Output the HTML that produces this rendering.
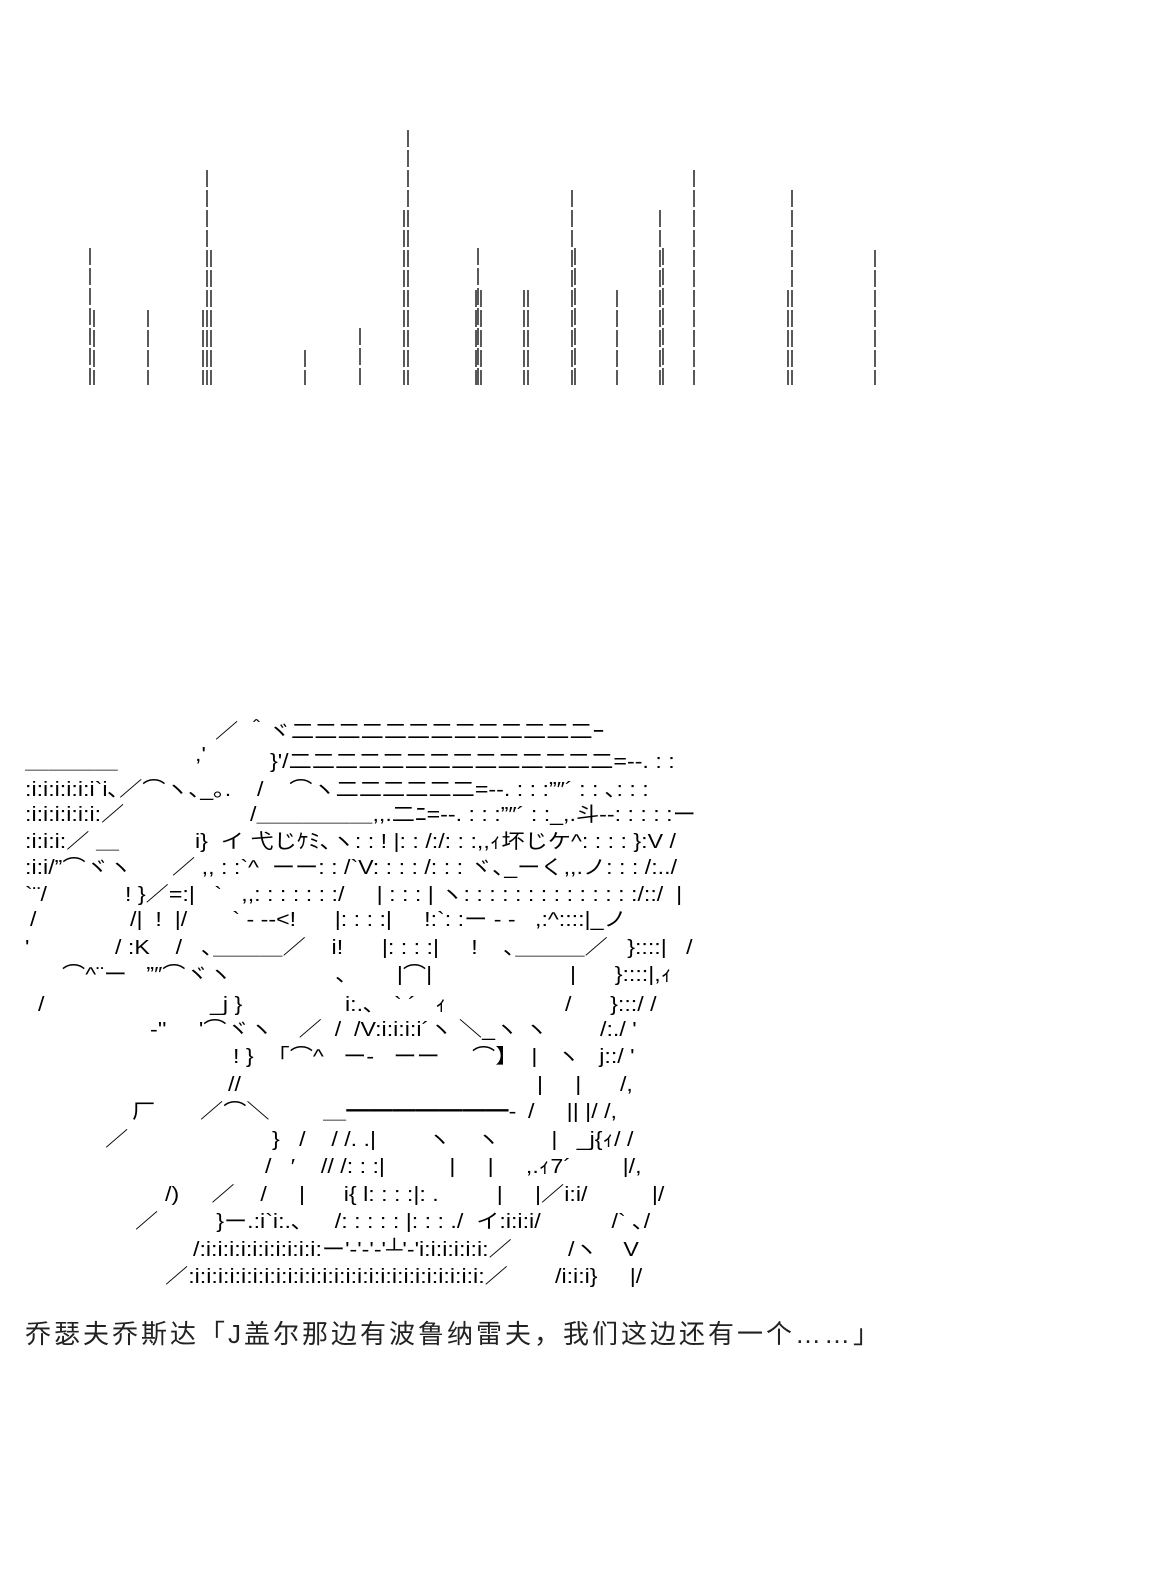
<!DOCTYPE html>
<html><head><meta charset="utf-8"><style>
html,body{margin:0;padding:0;background:#fff;}
body{width:1150px;height:1579px;position:relative;overflow:hidden;}
.t{position:absolute;white-space:pre;font-family:"Liberation Sans","Noto Sans CJK JP",sans-serif;font-size:20px;line-height:20px;color:#000;transform:scaleX(1.16);transform-origin:0 0;}
.c{position:absolute;left:25px;top:1314px;font-family:"Liberation Sans","Noto Sans CJK SC",sans-serif;font-size:26px;letter-spacing:3px;color:#222;white-space:pre;}
</style></head><body>
<svg width="1150" height="400" style="position:absolute;left:0;top:0" stroke="#000" stroke-width="1.3">
<g stroke-dasharray="17 3">
<line x1="90" y1="248" x2="90" y2="385"/><line x1="94" y1="310" x2="94" y2="385"/>
<line x1="148" y1="310" x2="148" y2="385"/>
<line x1="207" y1="170" x2="207" y2="385"/><line x1="211" y1="250" x2="211" y2="385"/><line x1="203" y1="310" x2="203" y2="385"/>
<line x1="305" y1="350" x2="305" y2="385"/><line x1="360" y1="328" x2="360" y2="385"/>
<line x1="408" y1="130" x2="408" y2="385"/><line x1="404" y1="210" x2="404" y2="385"/>
<line x1="478" y1="248" x2="478" y2="385"/><line x1="476" y1="290" x2="476" y2="385"/><line x1="481" y1="290" x2="481" y2="385"/>
<line x1="524" y1="290" x2="524" y2="385"/><line x1="528" y1="290" x2="528" y2="385"/>
<line x1="572" y1="190" x2="572" y2="385"/><line x1="575" y1="248" x2="575" y2="385"/>
<line x1="617" y1="290" x2="617" y2="385"/>
<line x1="660" y1="210" x2="660" y2="385"/><line x1="663" y1="248" x2="663" y2="385"/>
<line x1="694" y1="170" x2="694" y2="385"/>
<line x1="792" y1="190" x2="792" y2="385"/><line x1="788" y1="290" x2="788" y2="385"/>
<line x1="875" y1="250" x2="875" y2="385"/>
</g></svg>

<div class="t" style="left:215px;top:722px">／ ＾ヾ二二二二二二二二二二二二二ｰ</div>
<div class="t" style="left:195px;top:745px">,'</div>
<div class="t" style="left:25px;top:752px">＿＿＿＿</div>
<div class="t" style="left:270px;top:752px">}'/二二二二二二二二二二二二二二=‐‐. : :</div>
<div class="t" style="left:25px;top:780px">:i:i:i:i:i:i`i､／⌒ヽ､_｡.    /    ⌒ヽ二二二二二二=‐‐. : : :”″´ : : ､: : :</div>
<div class="t" style="left:25px;top:805px">:i:i:i:i:i:i:／</div>
<div class="t" style="left:250px;top:805px">/＿＿＿＿＿,,.二ﾆ=‐‐. : : :”″´ : :_,.斗‐‐: : : : :ー</div>
<div class="t" style="left:25px;top:832px">:i:i:i:／ ＿</div>
<div class="t" style="left:195px;top:832px">i}  イ 弋じｹﾐ､ヽ: : ! |: : /:/: : :,,ｨ坏じケ^: : : : }:V /</div>
<div class="t" style="left:25px;top:858px">:i:i/”⌒ヾヽ</div>
<div class="t" style="left:172px;top:858px">／ ,, : :`^  ーー: : /`V: : : : /: : : ヾ､_ーく,,.ノ: : : /:../</div>
<div class="t" style="left:25px;top:885px">`¨/</div>
<div class="t" style="left:125px;top:885px">! }／=:|   `   ,,: : : : : : :/     | : : : | ヽ: : : : : : : : : : : : : :/::/  |</div>
<div class="t" style="left:30px;top:910px">/</div>
<div class="t" style="left:130px;top:910px">/|  !  |/       ` - --&lt;!      |: : : :|     !:`: :ー - -   ,:^::::|_ノ</div>
<div class="t" style="left:25px;top:938px">'</div>
<div class="t" style="left:115px;top:938px">/ :K    /   ､＿＿＿／    i!      |: : : :|     !    ､＿＿＿／   }::::|   /</div>
<div class="t" style="left:62px;top:965px">⌒^¨ー   ”″⌒ヾヽ</div>
<div class="t" style="left:335px;top:965px">、      |⌒|</div>
<div class="t" style="left:570px;top:965px">|      }::::|,ｨ</div>
<div class="t" style="left:38px;top:995px">/</div>
<div class="t" style="left:210px;top:995px">_j }</div>
<div class="t" style="left:345px;top:995px">i:.､   ` ´   ｨ</div>
<div class="t" style="left:565px;top:995px">/      }:::/ /</div>
<div class="t" style="left:150px;top:1020px">-''     '⌒ヾヽ    ／  /  /V:i:i:i:i´ヽ ＼_ヽ ヽ</div>
<div class="t" style="left:600px;top:1020px">/:./ '</div>
<div class="t" style="left:233px;top:1047px">! }  「⌒^   ー-   ーー     ⌒】  |   ヽ   j::/ '</div>
<div class="t" style="left:228px;top:1075px">//</div>
<div class="t" style="left:537px;top:1075px">|     |      /,</div>
<div class="t" style="left:132px;top:1102px">厂</div>
<div class="t" style="left:200px;top:1102px">／⌒＼</div>
<div class="t" style="left:323px;top:1102px">＿━━━━━━━-</div>
<div class="t" style="left:528px;top:1102px">/     || |/ /,</div>
<div class="t" style="left:105px;top:1130px">／</div>
<div class="t" style="left:272px;top:1130px">}   /    / /. .|        ヽ    ヽ        |   _j{ｨ/ /</div>
<div class="t" style="left:265px;top:1157px">/   ′    // /: : :|          |     |     ,.ｨ7´        |/,</div>
<div class="t" style="left:165px;top:1185px">/)     ／    /     |      i{ l: : : :|: .         |     |／i:i/          |/</div>
<div class="t" style="left:135px;top:1212px">／         }ー.:i`i:.､     /: : : : : |: : : ./  イ:i:i:i/           /` ､/</div>
<div class="t" style="left:193px;top:1240px">/:i:i:i:i:i:i:i:i:i:i:ー'-'-'-'┴'-'i:i:i:i:i:i:／</div>
<div class="t" style="left:568px;top:1240px">/ヽ    V</div>
<div class="t" style="left:165px;top:1267px">／:i:i:i:i:i:i:i:i:i:i:i:i:i:i:i:i:i:i:i:i:i:i:i:i:i:／</div>
<div class="t" style="left:555px;top:1267px">/i:i:i}     |/</div>

<div class="c">乔瑟夫乔斯达「J盖尔那边有波鲁纳雷夫，我们这边还有一个……」</div>
</body></html>
